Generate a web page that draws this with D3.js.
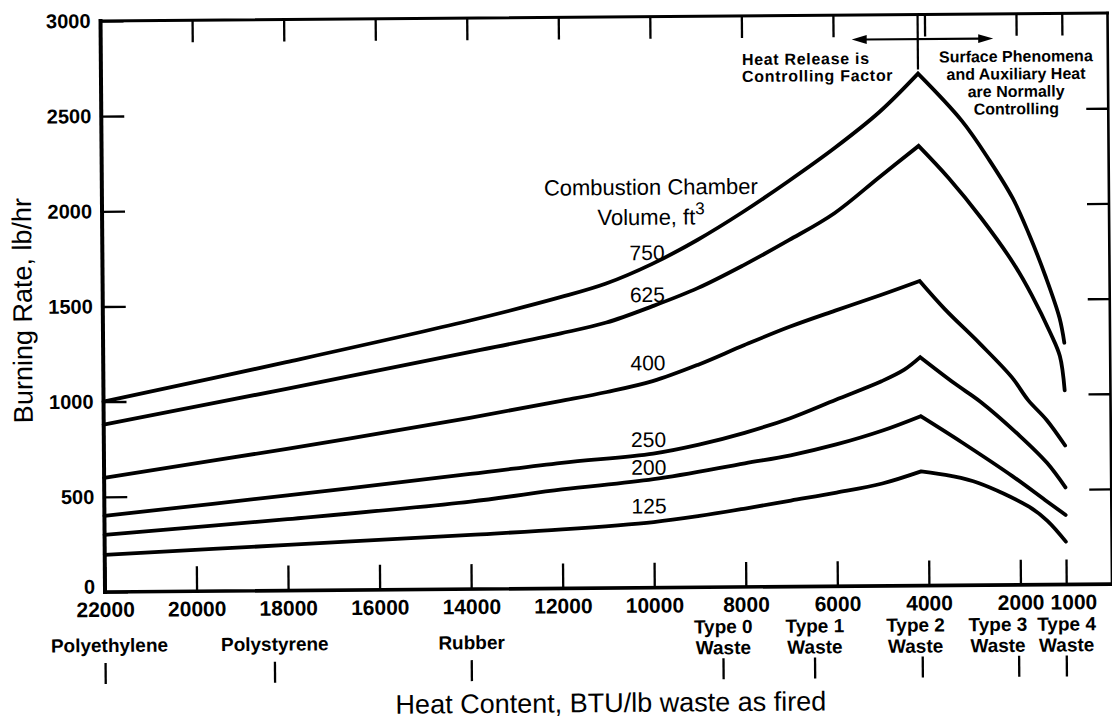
<!DOCTYPE html>
<html>
<head>
<meta charset="utf-8">
<script src="https://cdn.jsdelivr.net/npm/d3@7"></script>
<style>
  html, body { margin: 0; padding: 0; background: #fff; }
  svg { display: block; }
</style>
</head>
<body>
<svg id="chart" width="1112" height="724"></svg>
<script>
// ---- data -------------------------------------------------------------
// Heat content axis (BTU/lb waste as fired) and burning rate axis (lb/hr)
const heatTickValues = [22000, 20000, 18000, 16000, 14000, 12000, 10000, 8000, 6000, 4000, 2000, 1000];
const rateTickValues = [0, 500, 1000, 1500, 2000, 2500, 3000];

// Combustion chamber volumes, ft^3
const volumes = [750, 625, 400, 250, 200, 125];

// Burning rate curves: [heat content, burning rate]
const burn750 = [[22000,1000],[18000,1200],[14000,1410],[12000,1530],[11000,1600],[10000,1700],[9000,1825],[8000,1970],[7000,2130],[6000,2300],[5000,2490],[4150,2690],[3200,2440],[2600,2230],[2100,2030],[1750,1840],[1400,1620],[1100,1400],[1000,1270]];
const burn625 = [[22000,880],[18000,1060],[14000,1245],[12000,1340],[11000,1395],[10000,1478],[9000,1572],[8000,1690],[7000,1820],[6000,1960],[5000,2150],[4150,2310],[3500,2140],[2800,1930],[2100,1690],[1700,1520],[1300,1320],[1100,1200],[1000,1020]];
const burn400 = [[22000,600],[18000,745],[14000,900],[12000,985],[11000,1030],[10000,1085],[9000,1170],[8000,1270],[7000,1365],[6000,1448],[5000,1528],[4150,1600],[3600,1450],[2850,1270],[2150,1090],[1800,970],[1400,865],[1000,730]];
const burn250 = [[22000,400],[18000,500],[14000,605],[12000,660],[10000,705],[9000,750],[8000,810],[7000,885],[6000,980],[5000,1075],[4500,1135],[4150,1200],[3400,1060],[2850,965],[2000,785],[1400,640],[1000,510]];
const burn200 = [[22000,300],[18000,375],[14000,460],[12000,520],[10000,570],[8000,650],[7000,690],[6000,745],[5000,815],[4150,890],[3250,750],[2150,570],[1450,445],[1000,365]];
const burn125 = [[22000,195],[18000,240],[14000,285],[12000,310],[10000,345],[9000,375],[8000,412],[7000,452],[6000,492],[5000,538],[4150,600],[3500,575],[2900,537],[1800,410],[1400,335],[1000,225]];

// Reference materials along the heat content axis
const materialNames = [["Polyethylene"], ["Polystyrene"], ["Rubber"], ["Type 0", "Waste"], ["Type 1", "Waste"], ["Type 2", "Waste"], ["Type 3", "Waste"], ["Type 4", "Waste"]];
const materialHeat = [22000, 18300, 14000, 8500, 6500, 4300, 2500, 1000];

// Heat content at which the controlling regime changes (peak of the curves)
const regimeBreak = 4150;

// ---- layout -----------------------------------------------------------
const FONT = "'Liberation Sans', Arial, sans-serif";
const svg = d3.select("#chart");
svg.append("rect").attr("width", 1112).attr("height", 724).attr("fill", "#fff");

// the drawing sits a touch off-square, as on the printed sheet
const root = svg.append("g").attr("transform", "rotate(-0.45, 105, 590)");

const x = d3.scaleLinear().domain([22000, 0]).range([105, 1112]);
const y = d3.scaleLinear().domain([0, 3000]).range([592, 21]);

const series = [burn750, burn625, burn400, burn250, burn200, burn125];

// ---- curves -----------------------------------------------------------
// each curve is drawn as a smooth rise and a smooth fall meeting in a point
const line = d3.line()
  .x(d => x(d[0]))
  .y(d => y(d[1]))
  .curve(d3.curveCatmullRom.alpha(0.5));

series.forEach(pts => {
  const peak = d3.maxIndex(pts, d => d[1]);
  const rise = pts.slice(0, peak + 1);
  const fall = pts.slice(peak);
  const d = line(rise) + line(fall).replace(/^M/, "L");
  root.append("path")
    .attr("d", d)
    .attr("fill", "none")
    .attr("stroke", "#000")
    .attr("stroke-width", 3.8)
    .attr("stroke-linejoin", "miter")
    .attr("stroke-linecap", "round");
});

// ---- curve labels -----------------------------------------------------
const labelHeat = 10100;
const labelLift = { 750: 6, 625: 6, 400: 12, 250: 7, 200: 5, 125: 9 };
series.forEach((pts, i) => {
  const peak = d3.maxIndex(pts, d => d[1]);
  const rise = pts.slice(0, peak + 1);
  const along = d3.scaleLinear().domain(rise.map(d => d[0])).range(rise.map(d => d[1]));
  root.append("text")
    .attr("x", x(labelHeat))
    .attr("y", y(along(labelHeat)) - labelLift[volumes[i]])
    .attr("text-anchor", "middle")
    .attr("font-family", FONT)
    .attr("font-size", 21)
    .text(volumes[i]);
});

const legend = root.append("text")
  .attr("text-anchor", "middle")
  .attr("font-family", FONT)
  .attr("font-size", 22);
legend.append("tspan").attr("x", 654).attr("y", 199).text("Combustion Chamber");
const vol = legend.append("tspan").attr("x", 654).attr("y", 229);
vol.append("tspan").text("Volume, ft");
vol.append("tspan").attr("font-size", 17).attr("dy", -10).text("3");

// ---- axes -------------------------------------------------------------
function styleAxis(size) {
  return g => {
    g.select(".domain").remove();
    g.selectAll(".tick line").attr("stroke", "#000").attr("stroke-width", 2.3);
    g.selectAll(".tick text")
      .attr("fill", "#000")
      .attr("font-family", FONT)
      .attr("font-size", size)
      .attr("font-weight", "bold");
  };
}

const bottomAxis = root.append("g")
  .attr("transform", `translate(0,${y(0)})`)
  .call(d3.axisBottom(x).tickValues(heatTickValues).tickSize(-25).tickPadding(10).tickFormat(d3.format("d")))
  .call(styleAxis(21));
// the last label is nudged clear of its neighbour
bottomAxis.selectAll(".tick text").filter(d => d === 1000).attr("dx", 7);

root.append("g")
  .attr("transform", `translate(0,${y(3000)})`)
  .call(d3.axisTop(x).tickValues(heatTickValues.slice(1)).tickSize(-22).tickFormat(""))
  .call(styleAxis(20));

const leftAxis = root.append("g")
  .attr("transform", `translate(${x(22000)},0)`)
  .call(d3.axisLeft(y).tickValues(rateTickValues).tickSize(-23).tickPadding(10).tickFormat(d3.format("d")))
  .call(styleAxis(20));
// keep the zero label just above the heat-content labels
leftAxis.selectAll(".tick text").filter(d => d === 0).attr("dy", "0.05em");

root.append("g")
  .attr("transform", `translate(${x(0)},0)`)
  .call(d3.axisRight(y).tickValues(rateTickValues.slice(1, -1)).tickSize(-22).tickFormat(""))
  .call(styleAxis(20));

// frame
const frame = [
  [x(22000), y(0), x(22000), y(3000), 4.0],
  [x(22000), y(0), x(0), y(0), 3.6],
  [x(22000), y(3000), x(0), y(3000), 3.0],
  [x(0), y(0), x(0), y(3000), 2.6]
];
frame.forEach(([x1, y1, x2, y2, w]) => {
  root.append("line")
    .attr("x1", x1).attr("y1", y1).attr("x2", x2).attr("y2", y2)
    .attr("stroke", "#000").attr("stroke-width", w).attr("stroke-linecap", "square");
});

// ---- material markers -------------------------------------------------
const labelShift = { "Polyethylene": 4 };
const markShift = { "Type 2": 7, "Type 3": 21 };
materialNames.forEach((lines, i) => {
  const key = lines[0];
  const cx = x(materialHeat[i]);
  const t = root.append("text")
    .attr("text-anchor", "middle")
    .attr("font-family", FONT)
    .attr("font-size", 19)
    .attr("font-weight", "bold");
  const base = lines.length === 1 ? [652] : [638, 659];
  lines.forEach((s, j) => {
    t.append("tspan").attr("x", cx + (labelShift[key] || 0)).attr("y", base[j]).text(s);
  });
  const mx = cx + (markShift[key] || 0);
  root.append("line")
    .attr("x1", mx).attr("x2", mx).attr("y1", 663).attr("y2", 684)
    .attr("stroke", "#000").attr("stroke-width", 2.3);
});

// ---- axis titles ------------------------------------------------------
root.append("text")
  .attr("x", 610).attr("y", 716)
  .attr("text-anchor", "middle")
  .attr("font-family", FONT)
  .attr("font-size", 27)
  .text("Heat Content, BTU/lb waste as fired");

root.append("text")
  .attr("transform", "translate(34,310) rotate(-90)")
  .attr("text-anchor", "middle")
  .attr("font-family", FONT)
  .attr("font-size", 27)
  .text("Burning Rate, lb/hr");

// ---- regime annotation ------------------------------------------------
const bx = x(regimeBreak);
root.append("line")
  .attr("x1", bx).attr("x2", bx).attr("y1", y(3000)).attr("y2", 76)
  .attr("stroke", "#000").attr("stroke-width", 2.2);

const ay = 45.5, aL = 856, aR = 997.5, head = 15, half = 4.5;
root.append("line")
  .attr("x1", aL + head - 2).attr("x2", aR - head + 2).attr("y1", ay).attr("y2", ay)
  .attr("stroke", "#000").attr("stroke-width", 2.2);
root.append("path")
  .attr("d", `M${aL},${ay}L${aL + head},${ay - half}L${aL + head},${ay + half}Z`)
  .attr("fill", "#000");
root.append("path")
  .attr("d", `M${aR},${ay}L${aR - head},${ay - half}L${aR - head},${ay + half}Z`)
  .attr("fill", "#000");

const leftNote = root.append("text")
  .attr("font-family", FONT).attr("font-size", 16).attr("font-weight", "bold")
  .attr("letter-spacing", 0.7);
[["Heat Release is", 70], ["Controlling Factor", 87]].forEach(([s, yy]) => {
  leftNote.append("tspan").attr("x", 746).attr("y", yy).text(s);
});

const rightNote = root.append("text")
  .attr("text-anchor", "middle")
  .attr("font-family", FONT).attr("font-size", 16).attr("font-weight", "bold");
[["Surface Phenomena", 69], ["and Auxiliary Heat", 86.5], ["are Normally", 104], ["Controlling", 121.5]].forEach(([s, yy]) => {
  rightNote.append("tspan").attr("x", 1020).attr("y", yy).text(s);
});
</script>
</body>
</html>
